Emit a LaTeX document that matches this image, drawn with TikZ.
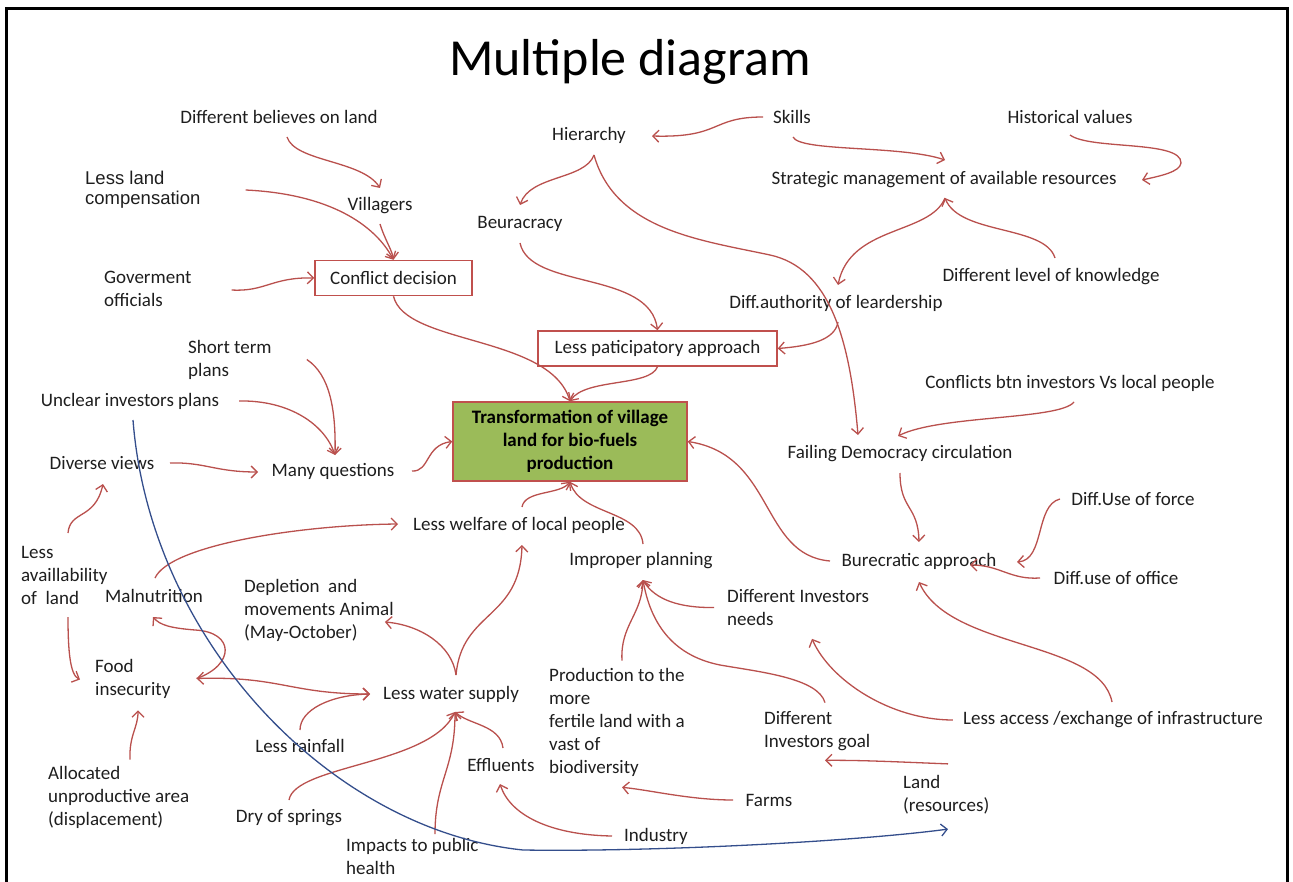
\documentclass[tikz,border=0pt]{standalone}
\usepackage{fontspec}
\setmainfont{Carlito}
\newfontfamily\arialfont{Liberation Sans}
\usetikzlibrary{arrows.meta,calc}
\definecolor{linkred}{RGB}{185,80,77}
\definecolor{linkblue}{RGB}{52,78,140}
\definecolor{txt}{RGB}{30,30,30}
\definecolor{boxgreen}{RGB}{155,187,89}
\definecolor{boxedge}{RGB}{192,80,77}
\begin{document}
\begin{tikzpicture}[x=1pt,y=-1pt,
  >={Straight Barb[length=6pt,width=12pt]},
  lbl/.style={font=\fontsize{19}{23}\selectfont, text=txt, inner sep=1pt},
  lbll/.style={lbl, align=left, anchor=west},
  framed/.style={lbl, draw=boxedge, line width=1.5pt, minimum height=35pt},
  conn/.style={draw=linkred, line width=1.3pt, ->},
  bothconn/.style={draw=linkred, line width=1.3pt, <->},
  bluelink/.style={draw=linkblue, line width=1.3pt, ->}]
\useasboundingbox (0,0) rectangle (1293,882);
% slide frame
\draw[line width=3pt] (6,882) -- (6,9) -- (1287,9) -- (1287,882);

\node[font=\fontsize{52}{60}\selectfont, text=black, inner sep=0pt] (title) at (630,62) {Multiple diagram};

% ---- nodes ----
\node[lbl] (dbel) at (279,117) {Different believes on land};
\node[font=\arialfont\fontsize{18.5}{20}\selectfont, text=txt, align=left, anchor=west, inner sep=1pt] (llc) at (84,190) {Less land\\compensation};
\node[lbl] (vil) at (380,206) {Villagers};
\node[framed, minimum width=157pt] (cd) at (393.5,278) {Conflict decision};
\node[lbll] (gov) at (103,288.5) {Goverment\\officials};
\node[lbl] (hie) at (589,135) {Hierarchy};
\node[lbl] (beu) at (520,224) {Beuracracy};
\node[lbl] (ski) at (792,117) {Skills};
\node[lbl] (hist) at (1070,117) {Historical values};
\node[lbl] (smar) at (944,180) {Strategic management of available resources};
\node[lbl] (dlk) at (1051,277) {Different level of knowledge};
\node[lbl] (dauth) at (836,303) {Diff.authority of leardership};
\node[framed, minimum width=239pt] (lpa) at (657.5,348.5) {Less paticipatory approach};
\node[lbll] (stp) at (187,359.5) {Short term\\plans};
\node[lbl] (uip) at (130,401) {Unclear investors plans};
\node[draw=boxedge, line width=1.5pt, fill=boxgreen, minimum width=234pt, minimum height=79pt,
      font=\bfseries\fontsize{19}{23}\selectfont, align=center, inner sep=0pt] (tr) at (570,441.5)
      {Transformation of village\\land for bio-fuels\\production};
\node[lbl] (cbi) at (1070,383) {Conflicts btn investors Vs local people};
\node[lbl] (fdc) at (900,454) {Failing Democracy circulation};
\node[lbl] (dv) at (102,463) {Diverse views};
\node[lbl] (mq) at (333,471) {Many questions};
\node[lbl] (lw) at (519,525) {Less welfare of local people};
\node[lbl] (duf) at (1133,499) {Diff.Use of force};
\node[lbl] (ip) at (641,561) {Improper planning};
\node[lbl] (ba) at (919,561) {Burecratic approach};
\node[lbl] (duo) at (1116,578) {Diff.use of office};
\node[lbll] (lal) at (20,575) {Less\\availlability\\of~ land};
\node[lbl] (mal) at (154,596) {Malnutrition};
\node[lbll] (dep) at (243,610) {Depletion~ and\\movements Animal\\(May-October)};
\node[lbll] (din) at (726,607.5) {Different Investors\\needs};
\node[lbll] (fi) at (94,678.5) {Food\\insecurity};
\node[lbll] (prod) at (548,722) {Production to the\\more\\fertile land with a\\vast of\\biodiversity};
\node[lbl] (lws) at (451,694) {Less water supply};
\node[lbll] (dig) at (763,731.5) {Different\\Investors goal};
\node[lbl] (lac) at (1113,720) {Less access /exchange of infrastructure};
\node[lbl] (lr) at (300,746) {Less rainfall};
\node[lbll] (alloc) at (47,797) {Allocated\\unproductive area\\(displacement)};
\node[lbl] (eff) at (501,765) {Effluents};
\node[lbll] (land) at (902,794.5) {Land\\(resources)};
\node[lbl] (farms) at (769,800) {Farms};
\node[lbl] (dos) at (289,818) {Dry of springs};
\node[lbl] (ind) at (656,836) {Industry};
\node[lbll] (imp) at (345,856.5) {Impacts to public\\health};

% junction points where several links meet
\coordinate (fij) at ($(fi.east)+(25,0)$);
\coordinate (lwsL) at ($(lws)+(-81,0)$);
\coordinate (lwsB) at ($(lws)+(4,18)$);
\coordinate (lwsT) at ($(lws)+(5,-19)$);
\coordinate (ipB) at ($(ip)+(2,19)$);
\coordinate (smB) at ($(smar)+(1,18)$);
\coordinate (hieB) at ($(hie)+(5,20)$);

% ---- upper left cluster ----
\draw[conn] ($(dbel)+(8,20)$) .. controls (295,162) and (362,160) .. ($(vil)+(0,-18)$);
\draw[conn] ($(llc.east)+(44,0)$) .. controls (330,194) and (375,225) .. (cd.north);
\draw[conn] ($(vil)+(0,18)$) .. controls (385,240) and (392,250) .. (cd.north);
\draw[conn] ($(gov.east)+(39,1.5)$) .. controls (265,292) and (272,277) .. (cd.west);
\draw[conn] (cd.south) .. controls (405,345) and (550,335) .. (tr.north);
\draw[conn] (lpa.south) .. controls (650,387) and (585,378) .. (tr.north);

% ---- upper right cluster ----
\draw[conn] ($(ski)+(-29,0)$) .. controls (710,117) and (722,138) .. ($(hie)+(63,1)$);
\draw[conn] ($(ski)+(1,20)$) .. controls (800,152) and (900,145) .. ($(smar)+(1,-20)$);
\draw[conn] ($(hist)+(0,18)$) .. controls (1090,150) and (1182,140) .. (1181,163)
            .. controls (1180,172) and (1160,176) .. ($(smar)+(198,0)$);
\draw[conn] (hieB) .. controls (585,180) and (530,175) .. ($(beu)+(0,-19)$);
\draw[conn] (hieB) .. controls (615,230) and (700,240) .. (770,255)
            .. controls (830,268) and (850,340) .. ($(fdc)+(-42,-19)$);
\draw[conn] ($(beu)+(0,19)$) .. controls (530,290) and (650,270) .. (lpa.north);
\draw[conn] ($(dlk)+(4,-19)$) .. controls (1045,225) and (960,235) .. (smB);
\draw[conn] (smB) .. controls (930,235) and (850,225) .. ($(dauth)+(2,-18)$);
\draw[conn] ($(dauth)+(2,19)$) .. controls (835,340) and (810,346) .. (lpa.east);
\draw[conn] ($(cbi)+(4,19)$) .. controls (1060,420) and (940,415) .. ($(fdc)+(-2,-18)$);
\draw[conn] ($(fdc)+(0,19)$) .. controls (900,510) and (918,505) .. ($(ba)+(0,-19)$);
\draw[conn] ($(duf)+(-73,0)$) .. controls (1035,505) and (1045,560) .. ($(ba)+(98,1)$);
\draw[conn] ($(duo)+(-76,0)$) .. controls (1010,580) and (1000,565) .. ($(ba)+(51,4)$);
\draw[conn] ($(lac)+(-1,-18)$) .. controls (1100,640) and (950,650) .. ($(ba)+(0,21)$);
\draw[conn] ($(ba)+(-89,0)$) .. controls (760,555) and (775,455) .. (tr.east);

% ---- left cluster ----
\draw[conn] ($(uip)+(109,0)$) .. controls (290,400) and (325,425) .. ($(mq)+(2,-16)$);
\draw[conn] ($(stp.east)+(34,0)$) .. controls (330,375) and (336,410) .. ($(mq)+(2,-16)$);
\draw[conn] ($(dv)+(68,0)$) .. controls (205,462) and (215,472) .. ($(mq)+(-75,1)$);
\draw[conn] ($(mq)+(79,0)$) .. controls (430,472) and (425,445) .. (tr.west);
\draw[conn] ($(lal.west)+(48,-42)$) .. controls (70,510) and (95,520) .. ($(dv)+(1,21)$);
\draw[conn] ($(lal.west)+(48,42)$) .. controls (68,650) and (70,675) .. ($(fi.west)+(-14,1)$);
\draw[conn] ($(mal)+(1,-18)$) .. controls (170,545) and (300,525) .. ($(lw)+(-121,-1)$);
\draw[bothconn] (fij) .. controls (280,676) and (290,694) .. (lwsL);
\draw[conn] (fij) .. controls (235,665) and (235,632) .. (195,630)
            .. controls (170,628) and (160,625) .. ($(mal)+(-1,21)$);
\draw[conn] ($(alloc.north west)+(83,-5)$) .. controls (129,735) and (138,728) .. ($(fi.south west)+(44,11)$);

% ---- lower middle cluster ----
\draw[conn] (lwsT) .. controls (452,645) and (420,625) .. ($(dep.east)+(-10,12)$);
\draw[conn] (lwsT) .. controls (462,610) and (520,620) .. ($(lw)+(3,20)$);
\draw[conn] ($(lw)+(3,-18)$) .. controls (525,490) and (560,495) .. (tr.south);
\draw[conn] ($(ip)+(2,-17)$) .. controls (640,510) and (580,515) .. (tr.south);
\draw[conn] ($(lr)+(0,-16)$) .. controls (300,710) and (330,695) .. (lwsL);
\draw[conn] ($(dos)+(0,-18)$) .. controls (295,765) and (430,765) .. (lwsB);
\draw[conn] ($(imp.north west)+(90,-3)$) .. controls (435,780) and (455,770) .. (lwsB);
\draw[conn] ($(eff)+(2,-17)$) .. controls (500,725) and (470,725) .. (lwsB);
\draw[conn] ($(ind)+(-44,0)$) .. controls (550,835) and (510,815) .. ($(eff)+(-1,19)$);
\draw[conn] ($(farms)+(-36,0)$) .. controls (690,800) and (650,790) .. ($(prod.south west)+(74,10)$);

% ---- lower right cluster ----
\draw[conn] ($(prod.north west)+(74,-6)$) .. controls (620,625) and (642,615) .. (ipB);
\draw[conn] ($(din.west)+(-12,0)$) .. controls (680,608) and (655,600) .. (ipB);
\draw[conn] ($(dig.north west)+(62,-8)$) .. controls (818,678) and (760,672) .. (720,665)
            .. controls (670,655) and (650,620) .. (ipB);
\draw[conn] ($(lac.west)+(-9,0)$) .. controls (890,720) and (830,680) .. ($(din.south west)+(86,12)$);
\draw[conn] ($(land.north west)+(46,-10)$) .. controls (900,762) and (860,760) .. ($(dig.south west)+(62,8)$);

% long link from the investors' plans to land
\draw[bluelink] ($(uip)+(3,19)$) .. controls (150,640) and (330,830) .. (523,850)
                .. controls (650,852) and (850,842) .. ($(land.south west)+(46,14)$);
\end{tikzpicture}
\end{document}
